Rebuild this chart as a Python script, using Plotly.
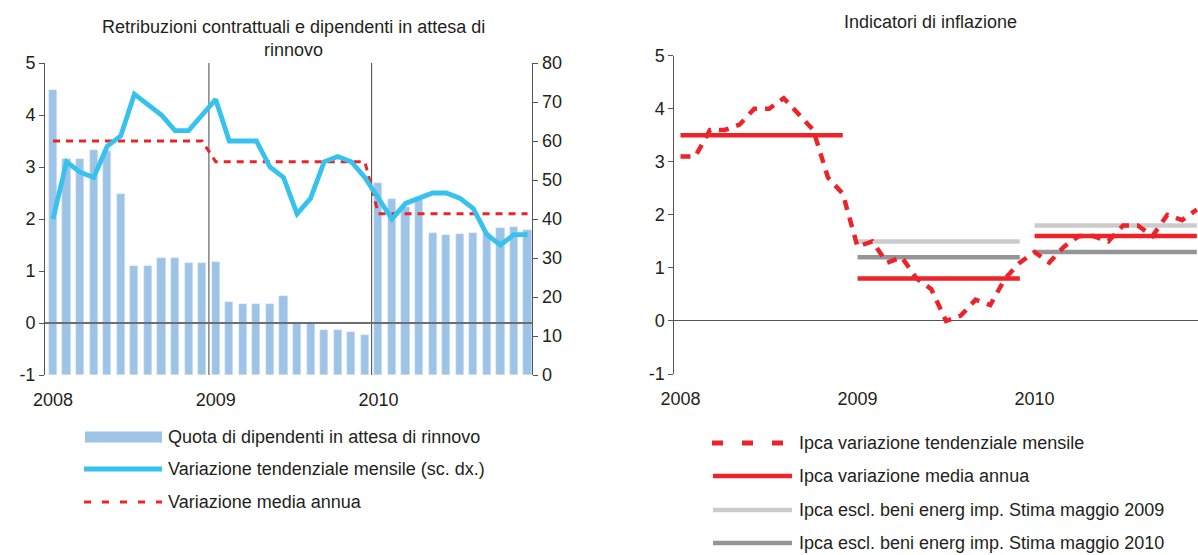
import plotly.graph_objects as go

# --- dati ---
mesi = list(range(36))          # gen 2008 ... dic 2010
anni = ["2008", "2009", "2010"]
inizio_anno = [0, 12, 24]
fine_anno = [11, 23, 35]
tick_pct = [-1, 0, 1, 2, 3, 4, 5]
tick_pct_txt = ["-1", "0", "1", "2", "3", "4", "5"]

# pannello sinistro
quota_attesa = [73.1, 55.4, 55.4, 57.7, 57.5, 46.4, 28.0, 28.0, 30.0, 30.0, 28.7, 28.7,
                29.0, 18.7, 18.2, 18.2, 18.2, 20.3, 13.4, 13.4, 11.5, 11.5, 11.0, 10.3,
                49.3, 45.2, 43.1, 44.9, 36.4, 35.9, 36.2, 36.4, 36.5, 37.7, 38.0, 37.2]
retr_tendenziale = [2.0, 3.1, 2.9, 2.8, 3.4, 3.6, 4.4, 4.2, 4.0, 3.7, 3.7, 4.0,
                    4.3, 3.5, 3.5, 3.5, 3.0, 2.8, 2.1, 2.4, 3.1, 3.2, 3.1, 2.8,
                    2.4, 2.0, 2.3, 2.4, 2.5, 2.5, 2.4, 2.2, 1.7, 1.5, 1.7, 1.7]
retr_media = [3.5, 3.5, 3.5, 3.5, 3.5, 3.5, 3.5, 3.5, 3.5, 3.5, 3.5, 3.5,
              3.1, 3.1, 3.1, 3.1, 3.1, 3.1, 3.1, 3.1, 3.1, 3.1, 3.1, 3.1,
              2.1, 2.1, 2.1, 2.1, 2.1, 2.1, 2.1, 2.1, 2.1, 2.1, 2.1, 2.1]

# pannello destro
ipca_mensile = [3.1, 3.1, 3.6, 3.6, 3.7, 4.0, 4.0, 4.2, 3.9, 3.6, 2.7, 2.4,
                1.4, 1.5, 1.1, 1.2, 0.8, 0.6, 0.0, 0.1, 0.4, 0.3, 0.8, 1.1,
                1.3, 1.1, 1.4, 1.6, 1.6, 1.5, 1.8, 1.8, 1.6, 2.0, 1.9, 2.1]
ipca_media = [3.5, 0.8, 1.6]
stima_mag2009 = [None, 1.5, 1.8]
stima_mag2010 = [None, 1.2, 1.3]

W, H = 1198, 555
FONT = "Liberation Sans, Arial, sans-serif"
TXT = "#231F20"
AZZURRO = "#9DC3E6"
CIANO = "#35C2EE"
ROSSO = "#EE2229"
GRIGIO_CH = "#CBCBCB"
GRIGIO_SC = "#939598"


def fx(p):
    return p / W


def fy(p):
    return 1 - p / H


def segmenti(valori):
    # una linea orizzontale per anno, separata da None
    xs, ys = [], []
    for a, b, v in zip(inizio_anno, fine_anno, valori):
        if v is None:
            continue
        xs += [a, b, None]
        ys += [v, v, None]
    return xs, ys


fig = go.Figure()

# --- pannello sinistro ---
fig.add_trace(go.Bar(x=mesi, y=quota_attesa, marker_color=AZZURRO, width=0.6,
                     xaxis="x", yaxis="y", showlegend=False))
fig.add_trace(go.Scatter(x=mesi, y=retr_media, mode="lines", xaxis="x", yaxis="y2",
                         line=dict(color=ROSSO, width=3, dash="7px,6px"), showlegend=False))
fig.add_trace(go.Scatter(x=mesi, y=retr_tendenziale, mode="lines", xaxis="x", yaxis="y2",
                         line=dict(color=CIANO, width=4.8), showlegend=False))

# --- pannello destro ---
for valori, col in [(stima_mag2009, GRIGIO_CH), (stima_mag2010, GRIGIO_SC), (ipca_media, ROSSO)]:
    xs, ys = segmenti(valori)
    fig.add_trace(go.Scatter(x=xs, y=ys, mode="lines", xaxis="x2", yaxis="y3",
                             line=dict(color=col, width=4.5), showlegend=False))
fig.add_trace(go.Scatter(x=mesi, y=ipca_mensile, mode="lines", xaxis="x2", yaxis="y3",
                         line=dict(color=ROSSO, width=4.5, dash="10px,8px"), showlegend=False))

asse_x = dict(tickvals=inizio_anno, ticktext=anni, showgrid=False, zeroline=False,
              showline=False, ticks="outside", ticklen=8, tickcolor="rgba(0,0,0,0)",
              automargin=False)
asse_y = dict(showgrid=False, zeroline=False, showline=True, linecolor="#555555", linewidth=1,
              ticks="outside", ticklen=5, tickcolor="#555555", automargin=False)

fig.update_layout(
    width=W, height=H,
    margin=dict(l=0, r=0, t=0, b=0),
    paper_bgcolor="white", plot_bgcolor="white",
    font=dict(family=FONT, size=18, color=TXT),
    bargap=0,
    xaxis=dict(domain=[fx(45), fx(532.3)], range=[-0.59, 35.35], anchor="y", **asse_x),
    yaxis=dict(domain=[fy(375), fy(63)], range=[0, 80], dtick=10, side="right",
               anchor="x", **asse_y),
    yaxis2=dict(range=[-1, 5], tickvals=tick_pct, ticktext=tick_pct_txt, side="left",
                overlaying="y", anchor="x", **asse_y),
    xaxis2=dict(domain=[fx(674.3), 1.0], range=[-0.42, 35.08], anchor="y3", **asse_x),
    yaxis3=dict(domain=[fy(374), fy(55.7)], range=[-1, 5], tickvals=tick_pct,
                ticktext=tick_pct_txt, anchor="x2",
                **{**asse_y, "zeroline": True, "zerolinecolor": "#555555", "zerolinewidth": 1}),
)

forme = [
    # linea dello zero e separatori d'anno nel pannello sinistro
    dict(type="line", xref="x domain", yref="y2", x0=0, x1=1, y0=0, y1=0,
         line=dict(color="#6D6E71", width=2), layer="above"),
    dict(type="line", xref="x", yref="y2", x0=11.5, x1=11.5, y0=-1, y1=5,
         line=dict(color="#444444", width=1), layer="below"),
    dict(type="line", xref="x", yref="y2", x0=23.5, x1=23.5, y0=-1, y1=5,
         line=dict(color="#444444", width=1), layer="below"),
    # legenda sinistra
    dict(type="rect", xref="paper", yref="paper", x0=fx(85), x1=fx(162), y0=fy(442.5), y1=fy(431.5),
         fillcolor=AZZURRO, line=dict(width=0)),
    dict(type="line", xref="paper", yref="paper", x0=fx(84), x1=fx(162), y0=fy(469), y1=fy(469),
         line=dict(color=CIANO, width=5)),
    dict(type="line", xref="paper", yref="paper", x0=fx(84), x1=fx(162), y0=fy(502), y1=fy(502),
         line=dict(color=ROSSO, width=3, dash="7px,11px")),
    # legenda destra
    dict(type="line", xref="paper", yref="paper", x0=fx(712), x1=fx(792), y0=fy(443), y1=fy(443),
         line=dict(color=ROSSO, width=5, dash="11px,19px")),
    dict(type="line", xref="paper", yref="paper", x0=fx(713), x1=fx(792), y0=fy(476), y1=fy(476),
         line=dict(color=ROSSO, width=4.5)),
    dict(type="line", xref="paper", yref="paper", x0=fx(713), x1=fx(792), y0=fy(510), y1=fy(510),
         line=dict(color=GRIGIO_CH, width=4.5)),
    dict(type="line", xref="paper", yref="paper", x0=fx(713), x1=fx(792), y0=fy(543), y1=fy(543),
         line=dict(color=GRIGIO_SC, width=4.5)),
]
fig.update_layout(shapes=forme)

testi = [
    (293, 39, "center", "Retribuzioni contrattuali e dipendenti in attesa di<br>rinnovo"),
    (930, 22, "center", "Indicatori di inflazione"),
    (166, 437, "left", "Quota di dipendenti in attesa di rinnovo"),
    (166, 469, "left", "Variazione tendenziale mensile (sc. dx.)"),
    (166, 502, "left", "Variazione media annua"),
    (797, 443, "left", "Ipca variazione tendenziale mensile"),
    (797, 476, "left", "Ipca variazione media annua"),
    (797, 510, "left", "Ipca escl. beni energ imp. Stima maggio 2009"),
    (797, 543, "left", "Ipca escl. beni energ imp. Stima maggio 2010"),
]
for x, y, anc, t in testi:
    fig.add_annotation(x=fx(x), y=fy(y), xref="paper", yref="paper", text=t, showarrow=False,
                       xanchor=anc, yanchor="middle", align="center")

# niente margine della pagina, così il grafico parte da (0, 0); niente modebar
fig.write_html("out.html", config={"displayModeBar": False},
               post_script="document.body.style.margin = '0';")
